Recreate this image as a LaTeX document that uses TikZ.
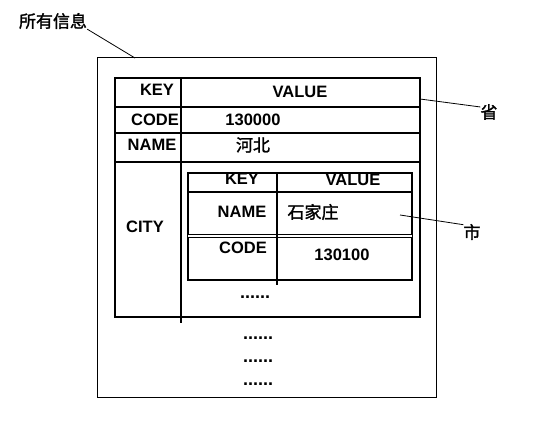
\documentclass[tikz,border=0pt]{standalone}
\usepackage{fontspec}
\setmainfont{Liberation Sans}
\newfontfamily\cjk[FakeBold=1.6]{Noto Sans CJK SC}
\usetikzlibrary{positioning}

\tikzset{
  key/.style={font=\bfseries\fontsize{16.5}{18}\selectfont, inner sep=0pt},
  zh/.style={font=\cjk\fontsize{17}{19}\selectfont, inner sep=0pt},
  dots/.style={font=\bfseries\fontsize{18}{20}\selectfont, inner sep=0pt},
  frame/.style={draw, line width=1pt},
  grid/.style={draw, line width=1.2pt},
  tag/.style={draw, line width=0.8pt}
}

\begin{document}
\begin{tikzpicture}[x=1pt, y=-1pt]
    \useasboundingbox (0,0) rectangle (551,438);

    % outer frame and province table
    \draw[frame] (97,58) rectangle (436,397);
    \draw[grid] (115,78) rectangle (420,317);
    \draw[grid] (115,107) -- (420,107);
    \draw[grid] (115,133) -- (420,133);
    \draw[grid, line width=1.6pt] (115,162) -- (420,162);
    \draw[grid] (181,78) -- (181,323);

    % city table
    \draw[grid] (188,173) rectangle (412,280);
    \draw[grid, line width=1.6pt] (188,192) -- (412,192);
    \draw[grid, double, double distance=1.2pt, line width=1pt] (188,236) -- (412,236);
    \draw[grid] (277,173) -- (277,285);

    \node[key] (pkey) at (157,90) {KEY};
    \node[key] (pvalue) at (300,92) {VALUE};
    \node[key] (pcode) at (155,120) {CODE};
    \node[key] (pcodev) at (253,120) {130000};
    \node[key] (pname) at (152,145) {NAME};
    \node[zh] (pnamev) at (253,145) {河北};
    \node[key] (pcity) at (145,227) {CITY};

    \node[key] (ckey) at (242,179) {KEY};
    \node[key] (cvalue) at (353,180) {VALUE};
    \node[key] (cname) at (242,212) {NAME};
    \node[zh] (cnamev) at (313,212) {石家庄};
    \node[key] (ccode) at (243,248) {CODE};
    \node[key] (ccodev) at (342,255) {130100};

    \node[dots] (cmore) at (255,297) {......};
    \node[dots] (pmore1) at (258,338) {......};
    \node[dots] (pmore2) at (258,361) {......};
    \node[dots] (pmore3) at (258,384) {......};

    % labels
    \node[zh] (all) at (53,21) {所有信息};
    \node[zh] (prov) at (489,112) {省};
    \node[zh] (city) at (472,232) {市};
    \coordinate (allpt) at (135,58);
    \coordinate (provpt) at (420,99);
    \coordinate (citypt) at (400,215);

    \draw[tag] (all.south east) -- (allpt);
    \draw[tag] (provpt) -- (prov.150);
    \draw[tag] (citypt) -- (city.140);
\end{tikzpicture}
\end{document}
